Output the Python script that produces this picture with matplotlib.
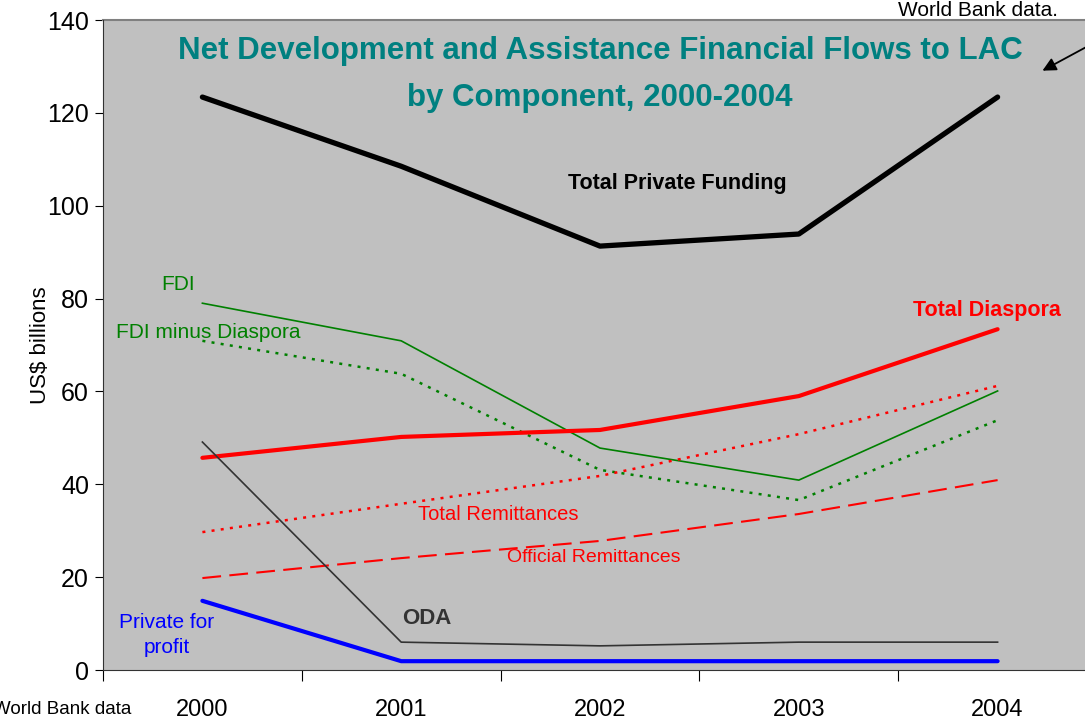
import matplotlib
matplotlib.use('Agg')
import matplotlib.pyplot as plt
from matplotlib import font_manager

names = {f.name for f in font_manager.fontManager.ttflist}
fam = 'Liberation Sans Narrow' if 'Liberation Sans Narrow' in names else 'Liberation Sans'
plt.rcParams['font.family'] = [fam, 'DejaVu Sans']

years = ['2000', '2001', '2002', '2003', '2004']
total_private = [123.4, 108.5, 91.3, 93.9, 123.4]
fdi = [79.0, 70.9, 47.8, 40.9, 60.1]
fdi_minus_diaspora = [70.9, 63.8, 43.1, 36.6, 53.8]
total_diaspora = [45.7, 50.2, 51.7, 59.0, 73.4]
total_remit = [29.7, 35.8, 41.8, 50.8, 61.2]
official_remit = [19.8, 24.1, 27.8, 33.6, 40.9]
oda = [49.1, 6.0, 5.2, 6.0, 6.0]
private_profit = [14.9, 1.9, 1.9, 1.9, 1.9]

x = range(len(years))

fig = plt.figure(figsize=(10.85, 7.22), dpi=100)
ax = fig.add_axes([103/1085, 1 - 670/722, 994/1085, 650/722])
ax.set_facecolor('#c0c0c0')

ax.plot(x, total_private, color='black', lw=3.8, solid_capstyle='round')
ax.plot(x, fdi, color='#008000', lw=1.2)
ax.plot(x, fdi_minus_diaspora, color='#008000', lw=1.8, ls=(0, (1.2, 2.5)))
ax.plot(x, total_diaspora, color='#ff0000', lw=3.0, solid_capstyle='round')
ax.plot(x, total_remit, color='#ff0000', lw=1.8, ls=(0, (1.2, 2.5)))
ax.plot(x, official_remit, color='#ff0000', lw=1.5, ls=(0, (9, 4)))
ax.plot(x, oda, color='#333333', lw=1.2)
ax.plot(x, private_profit, color='#0000ff', lw=3.0, solid_capstyle='round')

ax.set_xlim(-0.5, 4.5)
ax.set_ylim(0, 140)
ax.set_yticks(range(0, 141, 20))
ax.tick_params(axis='y', labelsize=18, length=6, direction='out', pad=4)
ax.set_xticks([i + 0.5 for i in range(-1, 5)])
ax.set_xticklabels([])
ax.tick_params(axis='x', length=8, direction='out')
ax.set_xticks(list(x), minor=True)
ax.set_xticklabels(years, minor=True, fontsize=17)
ax.tick_params(axis='x', which='minor', length=0, pad=21)
for s in ['top', 'right']:
    ax.spines[s].set_visible(False)
ax.spines['left'].set_color('#333333')
ax.spines['bottom'].set_color('#333333')
ax.axhline(140, color='#808080', lw=1.5, clip_on=False)
ax.set_ylabel('US$ billions', fontsize=16, labelpad=-3)

ax.text(2.0, 136.6, 'Net Development and Assistance Financial Flows to LAC\nby Component, 2000-2004',
        ha='center', va='top', fontsize=22.5, fontweight='bold', color='#008080', linespacing=1.75)

ax.text(2.39, 104.8, 'Total Private Funding', fontsize=15.5, fontweight='bold', ha='center', va='center')
ax.text(-0.12, 83.0, 'FDI', fontsize=15, color='#008000', ha='center', va='center')
ax.text(0.03, 72.6, 'FDI minus Diaspora', fontsize=15, color='#008000', ha='center', va='center')
ax.text(4.32, 77.5, 'Total Diaspora', fontsize=15.5, fontweight='bold', color='#ff0000', ha='right', va='center')
ax.text(1.49, 33.5, 'Total Remittances', fontsize=14.5, color='#ff0000', ha='center', va='center')
ax.text(1.97, 24.2, 'Official Remittances', fontsize=14, color='#ff0000', ha='center', va='center')
ax.text(1.13, 11.0, 'ODA', fontsize=16, fontweight='bold', color='#333333', ha='center', va='center')
ax.text(-0.18, 7.6, 'Private for\nprofit', fontsize=15, color='#0000ff', ha='center', va='center', linespacing=1.4)

fig.text(978/1085, 1 - 11/722, 'World Bank data.', fontsize=15, ha='center', va='center')
fig.text(131/1085, 1 - 710/722, 'World Bank data', fontsize=13.5, ha='right', va='center')
ax.annotate('', xy=(1040/1085, 1 - 72/722), xytext=(1090/1085, 1 - 45/722),
            xycoords='figure fraction', textcoords='figure fraction',
            arrowprops=dict(arrowstyle='-|>', color='black', lw=1.3, mutation_scale=20))

fig.savefig('out.png', dpi=100, facecolor='white')
